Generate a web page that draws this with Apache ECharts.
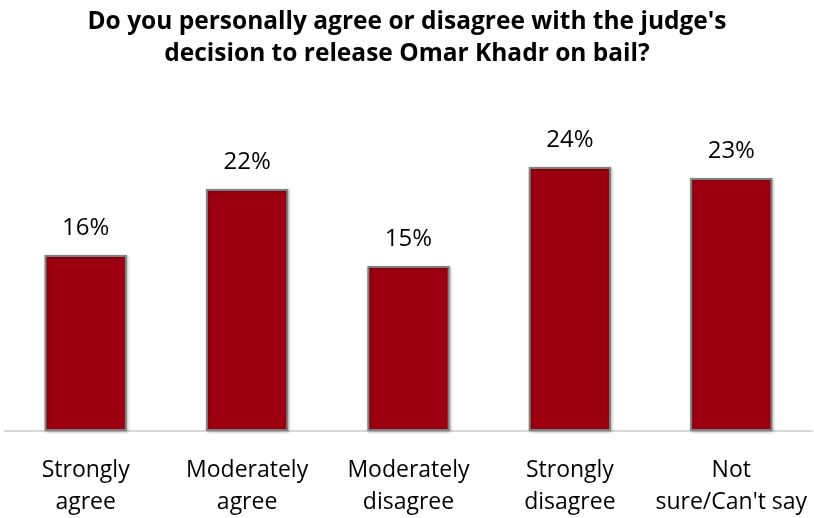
<!DOCTYPE html>
<html>
<head>
<meta charset="utf-8">
<script src="https://cdn.jsdelivr.net/npm/echarts@6/dist/echarts.min.js"></script>
<style>
  html, body { margin: 0; padding: 0; background: #fff; }
  #chart { width: 814px; height: 518px; }
</style>
</head>
<body>
<div id="chart"></div>
<script>
// Survey responses on the bail decision
const categories = ['Strongly\nagree', 'Moderately\nagree', 'Moderately\ndisagree', 'Strongly\ndisagree', 'Not\nsure/Can\'t say'];
const shares = [16, 22, 15, 24, 23];
const titleLines = ['Do you personally agree or disagree with the judge\'s', 'decision to release Omar Khadr on bail?'];

const FONT = '"Open Sans", "Liberation Sans", sans-serif';
const chart = echarts.init(document.getElementById('chart'), null, { renderer: 'canvas' });

chart.setOption({
  backgroundColor: '#ffffff',
  animation: false,
  title: {
    text: titleLines.join('\n'),
    left: 'center',
    top: 1,
    textStyle: {
      fontFamily: FONT,
      fontWeight: 'bold',
      fontSize: 24.5,
      lineHeight: 32,
      color: '#000'
    }
  },
  grid: { left: 5, right: 2, top: 101, bottom: 84 },
  xAxis: {
    type: 'category',
    data: categories,
    axisLine: { lineStyle: { color: '#d9d9d9', width: 2 } },
    axisTick: { show: false },
    axisLabel: {
      interval: 0,
      margin: 23,
      fontFamily: FONT,
      fontSize: 23,
      lineHeight: 32,
      color: '#000'
    }
  },
  yAxis: {
    type: 'value',
    min: 0,
    max: 30,
    show: false,
    splitLine: { show: false }
  },
  series: [{
    type: 'bar',
    data: shares,
    barWidth: '51%',
    itemStyle: {
      color: '#9c0010',
      borderColor: '#7f7f7f',
      borderWidth: 2,
      shadowColor: 'rgba(0,0,0,0.25)',
      shadowBlur: 3,
      shadowOffsetX: 1,
      shadowOffsetY: 1
    },
    label: {
      show: true,
      position: 'top',
      distance: 15,
      formatter: '{c}%',
      fontFamily: FONT,
      fontSize: 24,
      color: '#000'
    }
  }]
});
</script>
</body>
</html>
